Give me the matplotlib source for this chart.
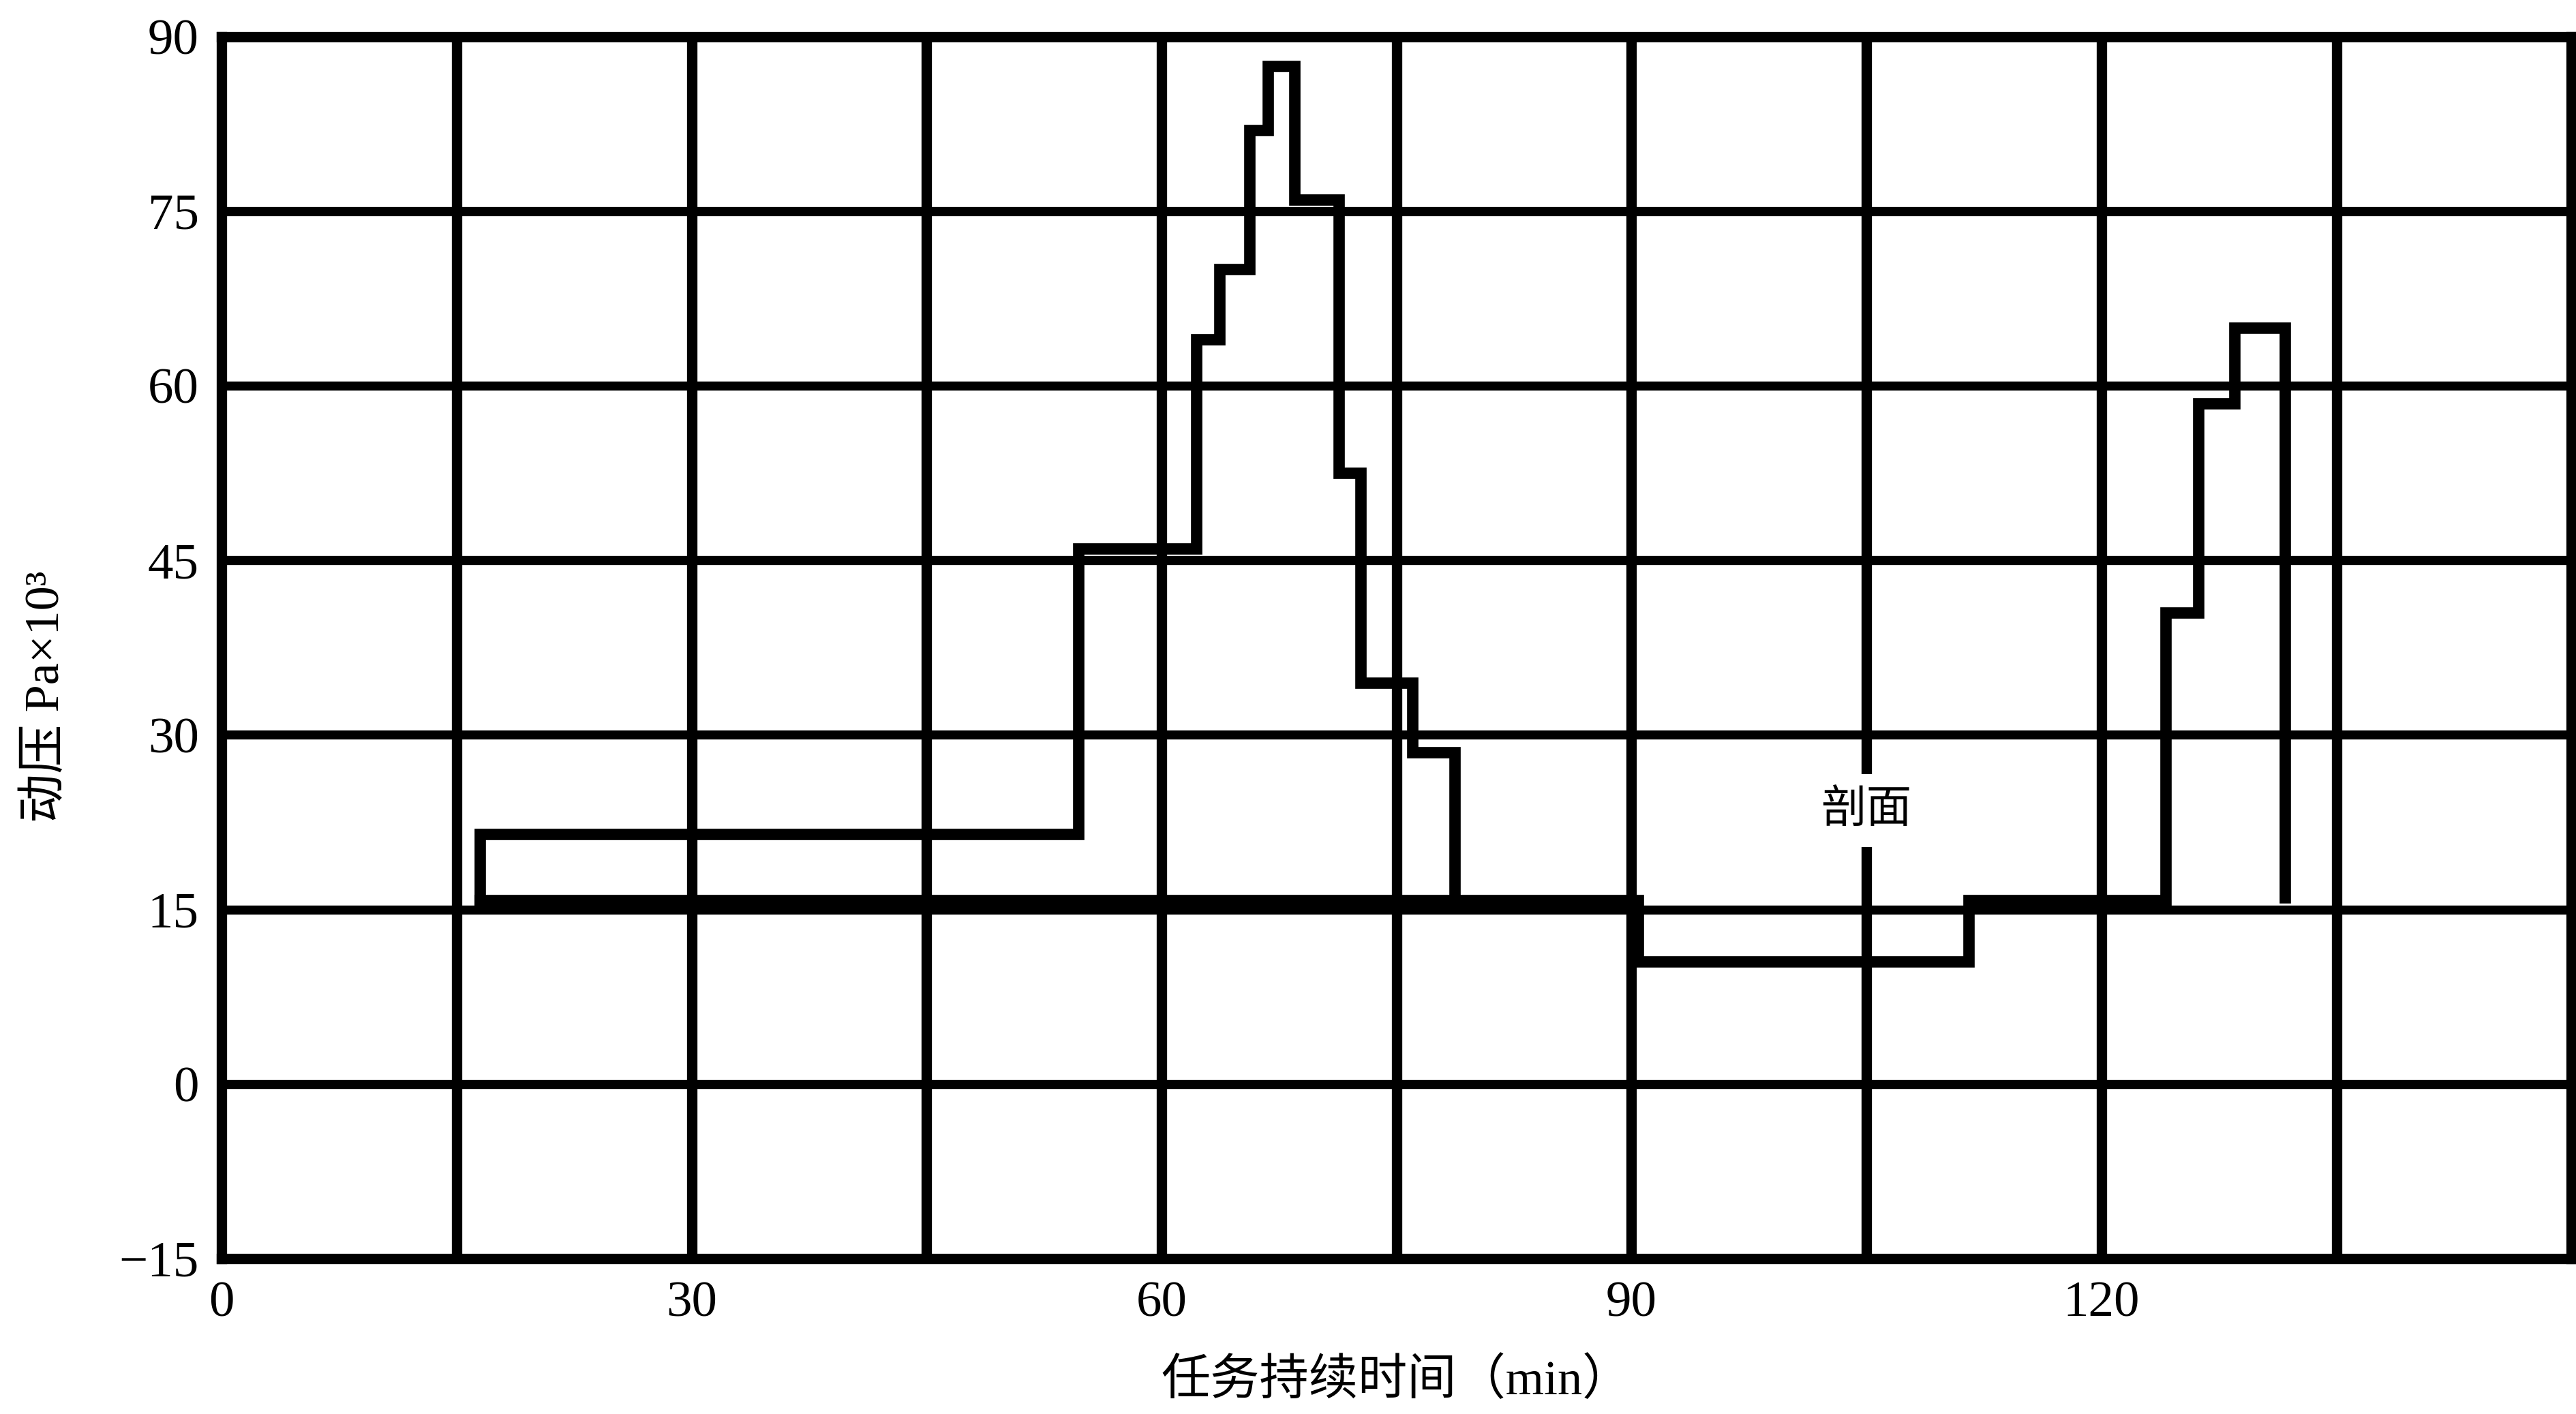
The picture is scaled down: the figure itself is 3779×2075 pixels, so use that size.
import matplotlib
matplotlib.use("Agg")
import matplotlib.pyplot as plt

# 动压阶梯曲线 (断点, 值) -- steps-post
t_min = [16.5, 16.5, 54.7, 62.2, 63.7, 65.6, 66.8, 68.5, 71.3, 72.7, 76.0, 78.7,
         90.4, 111.5, 124.1, 126.2, 128.5, 131.7]
q_kpa = [15.8, 21.5, 46.0, 64.0, 70.0, 82.0, 87.5, 76.0, 52.5, 34.5, 28.5, 15.8,
         10.5, 15.8, 40.5, 58.5, 65.0, 16.0]
base_t = [16.5, 78.7]
base_q = [15.8, 15.8]

x_ticks = [0, 30, 60, 90, 120]
x_minor = [15, 45, 75, 105, 135]
y_ticks = [-15, 0, 15, 30, 45, 60, 75, 90]
y_labels = ["\u221215", "0", "15", "30", "45", "60", "75", "90"]

section_t, section_q = 105, 23.5
section_txt = "剖面"

serif_cjk = ["Liberation Serif", "Noto Sans CJK SC"]
plt.rcParams["font.family"] = serif_cjk

fig = plt.figure(figsize=(18.9, 10.375), dpi=200)
ax = fig.add_axes([0.086, 0.110, 0.912, 0.864])

ax.set_xlim(0, 150)
ax.set_ylim(-15, 90)

ax.set_xticks(x_ticks)
ax.set_xticks(x_minor, minor=True)
ax.set_xticklabels([str(v) for v in x_ticks])
ax.set_yticks(y_ticks)
ax.set_yticklabels(y_labels)
ax.tick_params(which="both", length=0, labelsize=27, pad=12)

# grid lines (thick, like the scanned chart)
for v in x_ticks[1:] + x_minor:
    ax.axvline(v, color="black", lw=5.5, zorder=1)
for v in y_ticks[1:-1]:
    ax.axhline(v, color="black", lw=4.8, zorder=1)

for s in ax.spines.values():
    s.set_linewidth(5.5)

ax.plot(t_min, q_kpa, drawstyle="steps-post", color="black", lw=6.0,
        solid_joinstyle="miter", zorder=3)
ax.plot(base_t, base_q, color="black", lw=6.0, zorder=3)

ax.text(section_t, section_q, section_txt, fontsize=24, ha="center", va="center",
        family=["Noto Sans CJK SC"], zorder=4,
        bbox=dict(boxstyle="square,pad=0.3", fc="white", ec="none"))

ax.set_xlabel("任务持续时间（min）", fontsize=26, labelpad=16)
ax.set_ylabel("动压 Pa×10³", fontsize=26, labelpad=22)
ax.yaxis.set_label_coords(-0.065, 0.46)

fig.savefig("out.png", dpi=200, facecolor="white")
